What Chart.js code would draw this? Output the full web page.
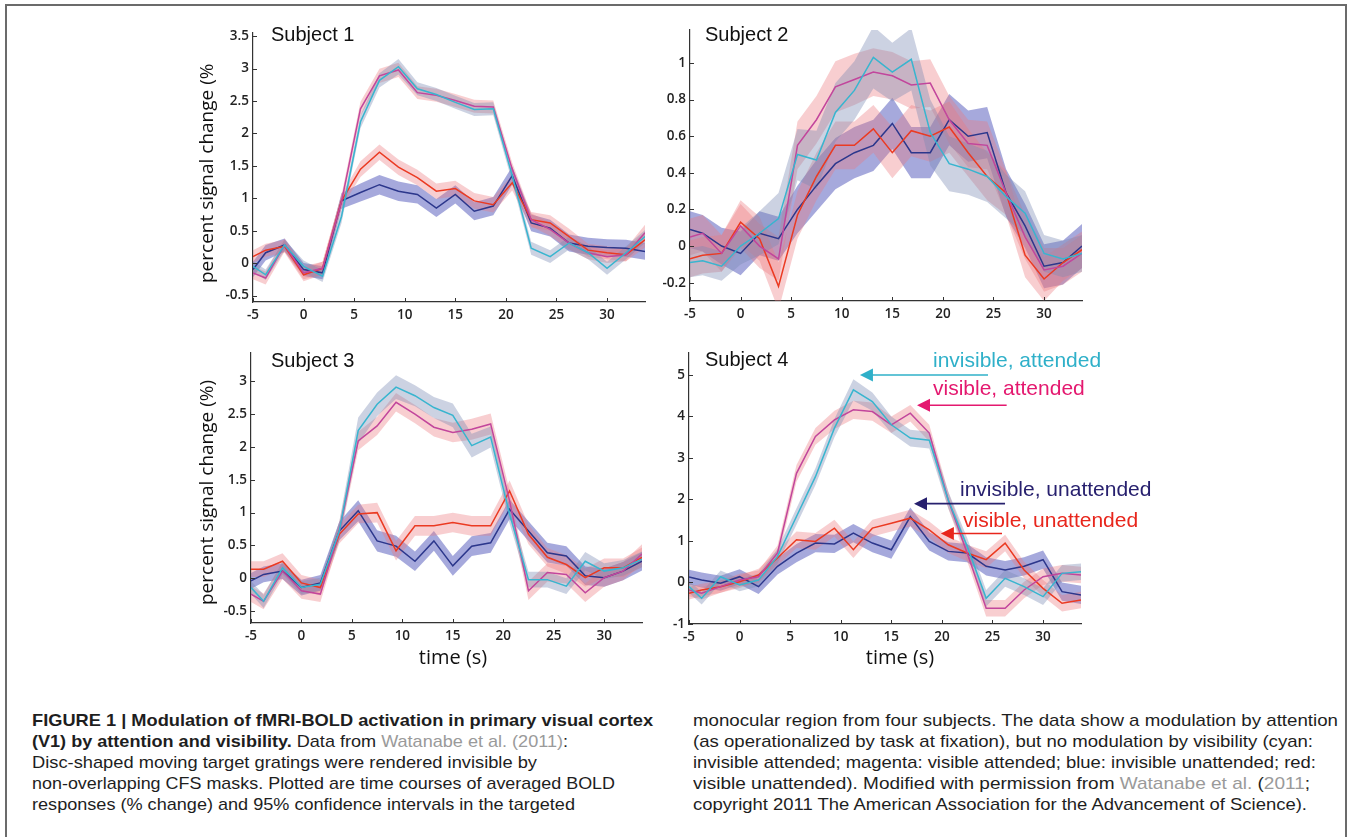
<!DOCTYPE html>
<html>
<head>
<meta charset="utf-8">
<script src="https://cdn.jsdelivr.net/npm/chart.js@4.4.0/dist/chart.umd.min.js"></script>
<style>
  html, body { margin: 0; padding: 0; background: #fff; width: 1349px; height: 837px; overflow: hidden; }
  .frame { position: absolute; left: 5px; top: 4px; width: 1338px; height: 900px;
           border: 2px solid #6b6b6b; border-bottom: none; }
  .panel { position: absolute; }
  .cap { position: absolute; white-space: nowrap; font-family: "Liberation Sans", Arial, sans-serif;
         font-size: 17px; line-height: 20px; color: #1e1e1e; transform-origin: 0 50%; }
  .cap b { font-weight: bold; }
  .ref { color: #9a9a9a; }
</style>
</head>
<body>
<div class="frame"></div>
<div class="panel" style="left:185px;top:15px"><canvas id="s1" width="475" height="320"></canvas></div>
<div class="panel" style="left:660px;top:15px"><canvas id="s2" width="440" height="320"></canvas></div>
<div class="panel" style="left:185px;top:340px"><canvas id="s3" width="475" height="335"></canvas></div>
<div class="panel" style="left:660px;top:340px"><canvas id="s4" width="520" height="335"></canvas></div>

<div class="cap" style="left:32px;top:711px" data-w="621"><b>FIGURE 1 | Modulation of fMRI-BOLD activation in primary visual cortex</b></div>
<div class="cap" style="left:32px;top:732px" data-w="536"><b>(V1) by attention and visibility.</b> Data from <span class="ref">Watanabe et al. (2011)</span>:</div>
<div class="cap" style="left:32px;top:753px" data-w="505">Disc-shaped moving target gratings were rendered invisible by</div>
<div class="cap" style="left:32px;top:774px" data-w="583">non-overlapping CFS masks. Plotted are time courses of averaged BOLD</div>
<div class="cap" style="left:32px;top:795px" data-w="543">responses (% change) and 95% confidence intervals in the targeted</div>
<div class="cap" style="left:693px;top:711px" data-w="645">monocular region from four subjects. The data show a modulation by attention</div>
<div class="cap" style="left:693px;top:732px" data-w="620">(as operationalized by task at fixation), but no modulation by visibility (cyan:</div>
<div class="cap" style="left:693px;top:753px" data-w="623">invisible attended; magenta: visible attended; blue: invisible unattended; red:</div>
<div class="cap" style="left:693px;top:774px" data-w="617">visible unattended). Modified with permission from <span class="ref">Watanabe et al.</span> (<span class="ref">2011</span>;</div>
<div class="cap" style="left:693px;top:795px" data-w="614">copyright 2011 The American Association for the Advancement of Science).</div>

<script>
// ====================
// Data
// ====================

const TIME = [-5, -3.75, -1.875, 0, 1.875, 3.75, 5.625, 7.5, 9.375, 11.25, 13.125, 15,
  16.875, 18.75, 20.625, 22.5, 24.375, 26.25, 28.125, 30, 31.875, 33.75];
const X_TICKS = [-5, 0, 5, 10, 15, 20, 25, 30];

// Subject 1
const S1_Y_TICKS = [-0.5, 0, 0.5, 1, 1.5, 2, 2.5, 3, 3.5];
const s1Cyan = [-0.05, -0.18, 0.28, -0.05, -0.2, 0.72, 2.18, 2.82, 3.03, 2.69, 2.6, 2.48, 2.37, 2.38, 1.35, 0.23, 0.1, 0.31, 0.16, -0.08, 0.16, 0.41];
const s1Mag = [-0.15, -0.23, 0.28, -0.15, -0.08, 0.95, 2.38, 2.89, 2.98, 2.63, 2.59, 2.51, 2.42, 2.41, 1.45, 0.67, 0.52, 0.31, 0.16, 0.1, 0.13, 0.47];
const s1Red = [0.1, 0.2, 0.26, -0.18, -0.08, 0.96, 1.45, 1.71, 1.48, 1.32, 1.11, 1.15, 0.96, 0.9, 1.24, 0.67, 0.62, 0.41, 0.2, 0.16, 0.13, 0.36];
const s1Blue = [-0.1, 0.16, 0.28, -0.1, -0.15, 0.96, 1.09, 1.21, 1.11, 1.06, 0.85, 1.06, 0.8, 0.88, 1.35, 0.62, 0.54, 0.31, 0.26, 0.24, 0.23, 0.18];
const s1CyanCi = [0.08, 0.08, 0.08, 0.09, 0.09, 0.1, 0.1, 0.11, 0.12, 0.1, 0.1, 0.1, 0.1, 0.1, 0.1, 0.1, 0.1, 0.1, 0.1, 0.1, 0.1, 0.1];
const s1MagCi = [0.1, 0.1, 0.1, 0.1, 0.1, 0.1, 0.11, 0.11, 0.11, 0.1, 0.1, 0.1, 0.1, 0.1, 0.1, 0.1, 0.1, 0.1, 0.1, 0.1, 0.1, 0.12];
const s1RedCi = [0.1, 0.1, 0.1, 0.1, 0.1, 0.1, 0.12, 0.12, 0.12, 0.12, 0.12, 0.12, 0.12, 0.12, 0.12, 0.12, 0.12, 0.12, 0.1, 0.1, 0.1, 0.12];
const s1BlueCi = [0.12, 0.12, 0.1, 0.1, 0.1, 0.12, 0.14, 0.15, 0.15, 0.14, 0.14, 0.14, 0.14, 0.14, 0.14, 0.13, 0.13, 0.13, 0.13, 0.13, 0.13, 0.13];

// Subject 2
const S2_Y_TICKS = [-0.2, 0, 0.2, 0.4, 0.6, 0.8, 1];
const s2Cyan = [-0.09, -0.08, -0.11, 0, 0.07, 0.15, 0.5, 0.47, 0.73, 0.85, 1.03, 0.95, 1.02, 0.62, 0.45, 0.42, 0.38, 0.27, 0.18, -0.04, -0.07, -0.04];
const s2Mag = [0.05, 0.07, -0.04, 0.11, 0, -0.07, 0.55, 0.69, 0.87, 0.91, 0.95, 0.93, 0.88, 0.89, 0.69, 0.56, 0.55, 0.29, 0.05, -0.13, -0.11, -0.04];
const s2Red = [-0.07, -0.05, -0.04, 0.13, 0.04, -0.22, 0.17, 0.38, 0.55, 0.55, 0.64, 0.51, 0.63, 0.6, 0.65, 0.51, 0.38, 0.29, -0.05, -0.18, -0.09, -0.02];
const s2Blue = [0.09, 0.07, 0, -0.04, 0.07, 0.04, 0.2, 0.33, 0.45, 0.51, 0.55, 0.67, 0.51, 0.51, 0.69, 0.6, 0.62, 0.29, 0.11, -0.11, -0.09, 0];
const s2CyanCi = [0.08, 0.08, 0.08, 0.1, 0.12, 0.14, 0.14, 0.16, 0.16, 0.16, 0.17, 0.16, 0.17, 0.18, 0.15, 0.14, 0.14, 0.12, 0.12, 0.1, 0.1, 0.1];
const s2MagCi = [0.1, 0.1, 0.1, 0.12, 0.12, 0.12, 0.13, 0.13, 0.14, 0.14, 0.13, 0.13, 0.13, 0.13, 0.13, 0.13, 0.13, 0.12, 0.12, 0.12, 0.1, 0.1];
const s2RedCi = [0.1, 0.1, 0.1, 0.12, 0.12, 0.13, 0.13, 0.13, 0.13, 0.13, 0.13, 0.14, 0.14, 0.14, 0.14, 0.13, 0.13, 0.12, 0.12, 0.12, 0.1, 0.1];
const s2BlueCi = [0.1, 0.1, 0.1, 0.12, 0.12, 0.12, 0.13, 0.14, 0.14, 0.14, 0.14, 0.14, 0.14, 0.14, 0.14, 0.14, 0.14, 0.13, 0.12, 0.12, 0.12, 0.12];

// Subject 3
const S3_Y_TICKS = [-0.5, 0, 0.5, 1, 1.5, 2, 2.5, 3];
const s3Cyan = [-0.14, -0.35, 0.16, -0.14, -0.09, 0.72, 2.25, 2.65, 2.91, 2.78, 2.6, 2.48, 2.02, 2.15, 0.98, -0.02, -0.02, -0.12, 0.26, 0.11, 0.16, 0.29];
const s3Mag = [-0.24, -0.35, 0.11, -0.19, -0.24, 0.72, 2.09, 2.32, 2.68, 2.5, 2.3, 2.22, 2.27, 2.35, 1.18, -0.19, 0.09, 0.06, -0.22, 0.01, 0.11, 0.37];
const s3Red = [0.14, 0.14, 0.26, -0.07, -0.14, 0.67, 0.98, 1.0, 0.42, 0.8, 0.8, 0.85, 0.8, 0.8, 1.33, 0.67, 0.32, 0.21, 0.01, 0.16, 0.16, 0.32];
const s3Blue = [-0.04, 0.06, 0.11, -0.14, -0.07, 0.72, 1.03, 0.57, 0.49, 0.26, 0.57, 0.19, 0.49, 0.54, 1.05, 0.72, 0.39, 0.34, 0.04, 0.01, 0.11, 0.26];
const s3CyanCi = [0.1, 0.1, 0.1, 0.1, 0.1, 0.14, 0.2, 0.18, 0.18, 0.16, 0.16, 0.18, 0.18, 0.16, 0.14, 0.12, 0.12, 0.12, 0.14, 0.12, 0.12, 0.12];
const s3MagCi = [0.12, 0.12, 0.12, 0.12, 0.12, 0.14, 0.14, 0.14, 0.14, 0.14, 0.14, 0.15, 0.16, 0.16, 0.16, 0.14, 0.14, 0.14, 0.14, 0.14, 0.14, 0.15];
const s3RedCi = [0.12, 0.12, 0.12, 0.12, 0.12, 0.14, 0.14, 0.15, 0.15, 0.15, 0.15, 0.15, 0.15, 0.15, 0.16, 0.15, 0.14, 0.14, 0.14, 0.14, 0.14, 0.15];
const s3BlueCi = [0.12, 0.12, 0.12, 0.12, 0.12, 0.14, 0.16, 0.16, 0.16, 0.15, 0.15, 0.15, 0.15, 0.15, 0.15, 0.15, 0.15, 0.15, 0.14, 0.14, 0.14, 0.14];

// Subject 4
const S4_Y_TICKS = [-1, 0, 1, 2, 3, 4, 5];
const s4Cyan = [-0.1, -0.38, 0.14, -0.06, 0.06, 0.63, 1.59, 2.55, 3.72, 4.64, 4.36, 3.8, 3.48, 3.43, 1.99, 0.87, -0.38, 0.1, -0.1, -0.34, 0.22, 0.26];
const s4Mag = [-0.18, -0.26, -0.1, 0.06, 0.14, 0.71, 2.63, 3.52, 3.92, 4.16, 4.12, 3.8, 4.08, 3.6, 1.99, 0.71, -0.62, -0.62, -0.18, 0.14, 0.22, 0.18];
const s4Red = [-0.26, -0.18, -0.1, 0.02, 0.18, 0.59, 1.03, 0.99, 1.31, 0.79, 1.31, 1.43, 1.55, 1.27, 0.91, 0.71, 0.55, 0.95, 0.3, -0.14, -0.5, -0.42];
const s4Blue = [0.13, 0.06, -0.02, 0.14, -0.1, 0.39, 0.71, 0.95, 0.93, 1.19, 0.95, 0.79, 1.59, 0.99, 0.75, 0.71, 0.39, 0.3, 0.39, 0.55, -0.22, -0.3];
const s4CyanCi = [0.15, 0.15, 0.15, 0.15, 0.15, 0.18, 0.2, 0.2, 0.22, 0.26, 0.22, 0.2, 0.2, 0.2, 0.2, 0.2, 0.2, 0.2, 0.2, 0.2, 0.2, 0.2];
const s4MagCi = [0.15, 0.15, 0.15, 0.15, 0.15, 0.18, 0.2, 0.2, 0.22, 0.22, 0.22, 0.2, 0.2, 0.2, 0.2, 0.2, 0.2, 0.2, 0.2, 0.2, 0.2, 0.2];
const s4RedCi = [0.15, 0.15, 0.15, 0.15, 0.15, 0.18, 0.2, 0.2, 0.2, 0.2, 0.2, 0.2, 0.2, 0.2, 0.2, 0.2, 0.2, 0.2, 0.2, 0.2, 0.2, 0.2];
const s4BlueCi = [0.18, 0.18, 0.18, 0.18, 0.18, 0.2, 0.22, 0.22, 0.22, 0.22, 0.22, 0.22, 0.22, 0.22, 0.22, 0.22, 0.22, 0.22, 0.22, 0.22, 0.22, 0.22];

// ====================
// Styles
// ====================

const CYAN = { line: "#38b5cf", band: "rgba(120, 138, 178, 0.38)" };
const MAGENTA = { line: "#c2469c", band: "rgba(236, 120, 125, 0.36)" };
const RED = { line: "#eb3a22", band: "rgba(236, 120, 125, 0.36)" };
const BLUE = { line: "#2c378c", band: "rgba(92, 98, 192, 0.55)" };

const TICK_FONT = { family: "'Open Sans', sans-serif", size: 13.5, weight: "600" };

// ====================
// Decoration plugin (inward ticks, titles, arrows)
// ====================

const panelDecor = {
  id: "panelDecor",
  afterDraw(chart, args, opts) {
    const { ctx, chartArea, scales } = chart;
    const [bx, by] = opts.box;
    ctx.save();
    ctx.strokeStyle = "#333";
    ctx.lineWidth = 1;
    ctx.beginPath();
    scales.x.ticks.forEach((t) => {
      const px = Math.round(scales.x.getPixelForValue(t.value)) + 0.5;
      ctx.moveTo(px, chartArea.bottom);
      ctx.lineTo(px, chartArea.bottom - 4);
    });
    scales.y.ticks.forEach((t) => {
      const py = Math.round(scales.y.getPixelForValue(t.value)) + 0.5;
      ctx.moveTo(chartArea.left, py);
      ctx.lineTo(chartArea.left + 4, py);
    });
    ctx.stroke();

    (opts.texts || []).forEach((t) => {
      ctx.save();
      ctx.font = t.font;
      ctx.fillStyle = t.color || "#111";
      ctx.textBaseline = t.baseline || "alphabetic";
      ctx.textAlign = t.align || "left";
      ctx.translate(t.x - bx, t.y - by);
      if (t.rot) ctx.rotate(t.rot);
      ctx.fillText(t.text, 0, 0);
      ctx.restore();
    });

    (opts.arrows || []).forEach((a) => {
      const tipX = scales.x.getPixelForValue(a.tip[0]);
      const tipY = scales.y.getPixelForValue(a.tip[1]);
      const tailX = scales.x.getPixelForValue(a.tail);
      ctx.strokeStyle = a.color;
      ctx.fillStyle = a.color;
      ctx.lineWidth = 1.6;
      ctx.beginPath();
      ctx.moveTo(tailX, tipY);
      ctx.lineTo(tipX + 10, tipY);
      ctx.stroke();
      ctx.beginPath();
      ctx.moveTo(tipX, tipY);
      ctx.lineTo(tipX + 13, tipY - 6.5);
      ctx.lineTo(tipX + 13, tipY + 6.5);
      ctx.closePath();
      ctx.fill();
    });
    ctx.restore();
  },
};

// ====================
// Panel builder
// ====================

function bandAndLine(mean, ci, style) {
  const upper = TIME.map((t, i) => ({ x: t, y: mean[i] + ci[i] }));
  const lower = TIME.map((t, i) => ({ x: t, y: mean[i] - ci[i] }));
  const line = TIME.map((t, i) => ({ x: t, y: mean[i] }));
  return {
    band: [
      { data: upper, borderWidth: 0, pointRadius: 0, fill: false, order: 10 },
      { data: lower, borderWidth: 0, pointRadius: 0, fill: "-1", backgroundColor: style.band, order: 10 },
    ],
    line: { data: line, borderColor: style.line, borderWidth: 1.5, pointRadius: 0, fill: false, order: 1 },
  };
}

function makePanel(p) {
  const [bx, by, bw, bh] = p.box;
  const [L, T, R, B] = p.area;
  const parts = p.series.map((s) => bandAndLine(s[0], s[1], s[2]));
  const datasets = [];
  parts.forEach((s) => datasets.push(...s.band));
  parts.forEach((s) => datasets.push(s.line));

  new Chart(document.getElementById(p.id), {
    type: "line",
    data: { datasets },
    options: {
      responsive: false,
      animation: false,
      layout: { padding: { left: 0, bottom: 0, top: T - by, right: bx + bw - R } },
      elements: { line: { tension: 0 } },
      plugins: {
        legend: { display: false },
        tooltip: { enabled: false },
        panelDecor: { box: [bx, by], texts: p.texts, arrows: p.arrows },
      },
      scales: {
        x: {
          type: "linear",
          min: -5,
          max: 33.75,
          grid: { display: false, drawTicks: false },
          border: { display: true, color: "#333", width: 1.2 },
          afterBuildTicks: (s) => { s.ticks = X_TICKS.map((v) => ({ value: v })); },
          afterFit: (s) => { s.height = by + bh - B; },
          ticks: { font: TICK_FONT, color: "#222", padding: 5, maxRotation: 0, callback: (v) => String(v) },
        },
        y: {
          type: "linear",
          min: p.yMin,
          max: p.yMax,
          grid: { display: false, drawTicks: false },
          border: { display: true, color: "#333", width: 1.2 },
          afterBuildTicks: (s) => { s.ticks = p.yTicks.map((v) => ({ value: v })); },
          afterFit: (s) => { s.width = L - bx; },
          ticks: { font: TICK_FONT, color: "#222", padding: 4, callback: (v) => String(v) },
        },
      },
    },
    plugins: [panelDecor],
  });
}

const TITLE_FONT = "20px 'Liberation Sans', Arial, sans-serif";
const AXIS_FONT = "19px 'Open Sans', sans-serif";
const NOTE_FONT = "21px 'Liberation Sans', Arial, sans-serif";

makePanel({
  id: "s1", box: [185, 15, 475, 320], area: [253, 33, 645, 302],
  yMin: -0.6, yMax: 3.55, yTicks: S1_Y_TICKS,
  series: [[s1Cyan, s1CyanCi, CYAN], [s1Mag, s1MagCi, MAGENTA], [s1Red, s1RedCi, RED], [s1Blue, s1BlueCi, BLUE]],
  texts: [
    { text: "Subject 1", x: 271, y: 41, font: TITLE_FONT },
    { text: "percent signal change (%", x: 208, y: 283, font: AXIS_FONT, rot: -Math.PI / 2, baseline: "middle" },
  ],
});

makePanel({
  id: "s2", box: [660, 15, 440, 320], area: [690, 30, 1082, 301],
  yMin: -0.3, yMax: 1.18, yTicks: S2_Y_TICKS,
  series: [[s2Cyan, s2CyanCi, CYAN], [s2Mag, s2MagCi, MAGENTA], [s2Red, s2RedCi, RED], [s2Blue, s2BlueCi, BLUE]],
  texts: [{ text: "Subject 2", x: 705, y: 41, font: TITLE_FONT }],
});

makePanel({
  id: "s3", box: [185, 340, 475, 335], area: [251, 353, 642, 623],
  yMin: -0.68, yMax: 3.43, yTicks: S3_Y_TICKS,
  series: [[s3Cyan, s3CyanCi, CYAN], [s3Mag, s3MagCi, MAGENTA], [s3Red, s3RedCi, RED], [s3Blue, s3BlueCi, BLUE]],
  texts: [
    { text: "Subject 3", x: 271, y: 367, font: TITLE_FONT },
    { text: "percent signal change (%)", x: 208, y: 605, font: AXIS_FONT, rot: -Math.PI / 2, baseline: "middle" },
    { text: "time (s)", x: 453, y: 658, font: "20px 'Open Sans', sans-serif", align: "center", baseline: "middle" },
  ],
});

makePanel({
  id: "s4", box: [660, 340, 520, 335], area: [689, 353, 1081, 624],
  yMin: -1, yMax: 5.53, yTicks: S4_Y_TICKS,
  series: [[s4Cyan, s4CyanCi, CYAN], [s4Mag, s4MagCi, MAGENTA], [s4Red, s4RedCi, RED], [s4Blue, s4BlueCi, BLUE]],
  texts: [
    { text: "Subject 4", x: 705, y: 366, font: TITLE_FONT },
    { text: "time (s)", x: 900, y: 658, font: "20px 'Open Sans', sans-serif", align: "center", baseline: "middle" },
    { text: "invisible, attended", x: 933, y: 367, font: NOTE_FONT, color: "#2fb0c9" },
    { text: "visible, attended", x: 933, y: 395, font: NOTE_FONT, color: "#e4186f" },
    { text: "invisible, unattended", x: 960, y: 496, font: NOTE_FONT, color: "#27206e" },
    { text: "visible, unattended", x: 963, y: 527, font: NOTE_FONT, color: "#e8261c" },
  ],
  arrows: [
    { tip: [11.9, 5.0], tail: 24.56, color: "#2fb0c9" },
    { tip: [17.54, 4.27], tail: 26.4, color: "#e4186f" },
    { tip: [17.24, 1.9], tail: 26.24, color: "#27206e" },
    { tip: [19.9, 1.18], tail: 25.94, color: "#e8261c" },
  ],
});

// ====================
// Caption line widths
// ====================

document.querySelectorAll(".cap").forEach((el) => {
  const w = el.getBoundingClientRect().width;
  el.style.transform = "scaleX(" + (Number(el.dataset.w) / w).toFixed(4) + ")";
});
</script>
</body>
</html>
